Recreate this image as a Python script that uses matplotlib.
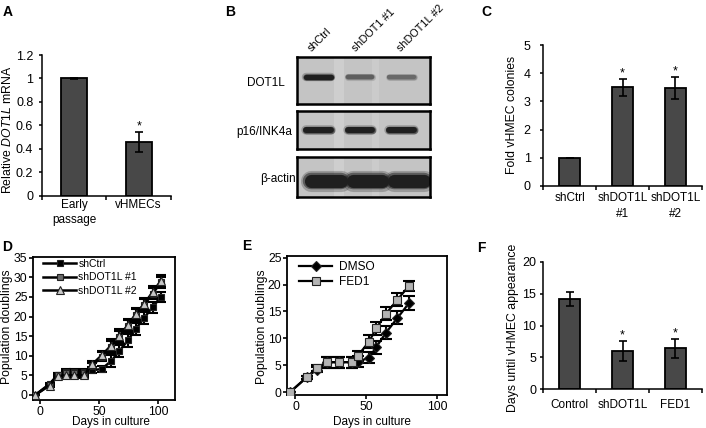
import numpy as np
import matplotlib.pyplot as plt

plt.rcParams['font.family'] = 'Liberation Sans'
plt.rcParams['mathtext.fontset'] = 'custom'
plt.rcParams['mathtext.it'] = 'Liberation Sans:italic'
plt.rcParams['mathtext.rm'] = 'Liberation Sans'
plt.rcParams['axes.linewidth'] = 1.1

# ---- data ----
# A: relative DOT1L mRNA
a_labels = ['Early\npassage', 'vHMECs']
a_values = [1.0, 0.46]
a_errors = [0.005, 0.085]

# B: western blot, relative band strength per lane
blot_lanes = ['shCtrl', 'shDOT1 #1', 'shDOT1L #2']
blot_rows = ['DOT1L', 'p16/INK4a', '\u03b2-actin']
blot_dot1l = [1.0, 0.62, 0.55]
blot_p16 = [1.0, 1.0, 1.0]
blot_actin = [1.0, 1.0, 1.0]

# C: fold vHMEC colonies
c_labels = ['shCtrl', 'shDOT1L\n#1', 'shDOT1L\n#2']
c_values = [1.0, 3.5, 3.47]
c_errors = [0.01, 0.31, 0.40]

# D: population doublings, shRNA
d_days = [-4, 8, 15, 22, 29, 37, 44, 52, 60, 67, 74, 81, 88, 95, 102]
d_shctrl = [0, 2.8, 5.2, 5.9, 5.9, 5.9, 6.3, 6.6, 8.6, 11.2, 13.9, 16.9, 19.7, 22.4, 25.0]
d_shctrl_err = [0, 0.3, 0.5, 0.6, 0.6, 0.6, 0.6, 0.8, 1.5, 1.6, 1.6, 1.5, 1.5, 1.4, 1.3]
d_sh1 = [0, 2.6, 5.0, 5.5, 5.5, 5.5, 7.4, 9.8, 12.3, 14.8, 17.5, 20.4, 23.0, 25.8, 28.7]
d_sh1_err = [0, 0.3, 0.5, 0.6, 0.6, 0.6, 0.8, 1.2, 1.5, 1.5, 1.5, 1.5, 1.4, 1.4, 1.5]
d_sh2 = [0, 2.4, 4.8, 5.0, 5.0, 5.0, 7.8, 10.1, 12.6, 15.1, 17.8, 20.7, 23.3, 26.2, 29.1]
d_sh2_err = [0, 0.3, 0.5, 0.6, 0.6, 0.6, 0.8, 1.2, 1.6, 1.6, 1.6, 1.6, 1.5, 1.5, 1.6]

# E: population doublings, drug
e_days = [-4, 8, 15, 22, 31, 40, 44, 52, 57, 64, 72, 80]
e_dmso = [0, 2.8, 4.2, 5.6, 5.6, 5.6, 5.7, 6.4, 8.4, 11.1, 13.8, 16.5]
e_dmso_err = [0, 0.3, 0.5, 1.0, 1.0, 1.0, 1.0, 1.0, 1.2, 1.2, 1.2, 1.3]
e_fed1 = [0, 2.8, 4.5, 5.6, 5.6, 5.6, 6.8, 9.4, 11.9, 14.6, 17.2, 19.7]
e_fed1_err = [0, 0.3, 0.5, 1.0, 1.0, 1.0, 0.9, 1.2, 1.2, 1.2, 1.2, 0.9]

# F: days until vHMEC appearance
f_labels = ['Control', 'shDOT1L', 'FED1']
f_values = [14.15, 5.95, 6.4]
f_errors = [1.15, 1.55, 1.43]

W, H = 706, 428
fig = plt.figure(figsize=(W / 100, H / 100), dpi=100)


def px_axes(l, t, r, b):
    return fig.add_axes([l / W, 1 - b / H, (r - l) / W, (b - t) / H])


def ftext(x, y, s, **kw):
    fig.text(x / W, 1 - y / H, s, **kw)


def bar_panel(ax, labels, values, errors, stars, ymax, yticks, yticklabels,
              ypad, xpad, lsp):
    x = np.arange(len(values))
    ax.bar(x, values, width=0.4, color='#484848', edgecolor='black',
           linewidth=1.3, zorder=2)
    ax.errorbar(x, values, yerr=errors, fmt='none', ecolor='black',
                elinewidth=1.2, capsize=3.2, capthick=1.2, zorder=3)
    for i in stars:
        ax.annotate('*', (x[i], values[i] + errors[i]), xytext=(0, 4),
                    textcoords='offset points', ha='center', va='center',
                    fontsize=9)
    ax.set_xlim(-0.5, len(values) - 0.5)
    ax.set_ylim(0, ymax)
    ax.set_yticks(yticks)
    ax.set_yticklabels(yticklabels)
    ax.set_xticks(np.arange(len(values) + 1) - 0.5)
    ax.set_xticklabels([])
    ax.set_xticks(x, minor=True)
    ax.set_xticklabels(labels, minor=True, fontsize=8.5, linespacing=lsp)
    ax.tick_params(axis='x', which='major', direction='out', length=3, width=1.1)
    ax.tick_params(axis='x', which='minor', length=0, pad=xpad)
    ax.tick_params(axis='y', direction='out', length=2.5, width=1.1,
                   pad=ypad, labelsize=9)
    for s in ['top', 'right']:
        ax.spines[s].set_visible(False)


# ---- A ----
axA = px_axes(41.7, 55, 171, 195.7)
bar_panel(axA, a_labels, a_values, a_errors, [1], 1.2,
          [0, 0.2, 0.4, 0.6, 0.8, 1.0, 1.2],
          ['0', '0.2', '0.4', '0.6', '0.8', '1', '1.2'], 3.5, 2.5, 1.3)
ftext(8, 130, r'Relative $\mathit{DOT1L}$ mRNA', rotation=90,
      ha='center', va='center', fontsize=8.8)

# ---- C ----
axC = px_axes(543.3, 45, 701.7, 186)
bar_panel(axC, c_labels, c_values, c_errors, [1, 2], 5,
          [0, 1, 2, 3, 4, 5], ['0', '1', '2', '3', '4', '5'], 6.5, 4, 1.45)
ftext(512, 115, 'Fold vHMEC colonies', rotation=90, ha='center',
      va='center', fontsize=8.8)

# ---- F ----
axF = px_axes(543.3, 261.7, 701.7, 389.3)
bar_panel(axF, f_labels, f_values, f_errors, [1, 2], 20,
          [0, 5, 10, 15, 20], ['0', '5', '10', '15', '20'], 2.7, 7, 1.2)
ftext(513, 328, 'Days until vHMEC appearance', rotation=90, ha='center',
      va='center', fontsize=8.8)

# ---- B (blot) ----
bg = np.array([0.77, 0.77, 0.77])
dark = np.array([0.12, 0.12, 0.12])
strip_boxes = [(57, 104), (111, 149), (157, 197)]
strip_data = [blot_dot1l, blot_p16, blot_actin]
band_y = [0.14, 0.0, -0.2]
band_half = [0.3, 0.3, 0.36]
band_lw = [3.8, 4.3, 9.5]
lane_shift = [0.0, 0.0, 0.18]
label_x = [266, 264, 278]
for k, (t, b) in enumerate(strip_boxes):
    ax = px_axes(297, t, 430, b)
    ax.set_facecolor(bg)
    ax.set_xlim(-0.52, 2.69)
    ax.set_ylim(-1, 1)
    ax.axvspan(0.38, 0.62, color='white', alpha=0.18, lw=0)
    ax.axvspan(1.3, 1.45, color='white', alpha=0.12, lw=0)
    for lane, strength in enumerate(strip_data[k]):
        c = bg + (dark - bg) * strength
        cx = lane + lane_shift[k]
        lw = band_lw[k] * (0.6 + 0.4 * strength)
        for scale, alpha in [(1.6, 0.25), (1.25, 0.5), (1.0, 1.0)]:
            ax.plot([cx - band_half[k], cx + band_half[k]],
                    [band_y[k], band_y[k]], color=c, lw=lw * scale,
                    alpha=alpha, solid_capstyle='round')
    ax.set_xticks([])
    ax.set_yticks([])
    for s in ax.spines.values():
        s.set_linewidth(1.8)
    ftext(label_x[k], (t + b) / 2 + 2, blot_rows[k], ha='center',
          va='center', fontsize=8.5)
for i, name in enumerate(blot_lanes):
    ftext(313 + 44.5 * i, 53, name, rotation=45, rotation_mode='anchor',
          ha='left', va='bottom', fontsize=7.8)

# ---- D ----
axD = px_axes(33, 257, 175, 400)
d_series = [(d_shctrl, d_shctrl_err, 's', 'black', 'shCtrl', 4.8),
            (d_sh1, d_sh1_err, 's', '#6a6a6a', 'shDOT1L #1', 4.8),
            (d_sh2, d_sh2_err, '^', '#c8c8c8', 'shDOT1L #2', 5.5)]
for vals, errs, mk, fc, lab, ms in d_series:
    axD.errorbar(d_days, vals, yerr=errs, fmt='none', ecolor='black',
                 elinewidth=1.5, capsize=3.5, capthick=1.5, zorder=2)
    axD.plot(d_days, vals, color='black', lw=1.8, marker=mk, ms=ms,
             mfc=fc, mec='#222222', mew=0.8, label=lab, zorder=3)
axD.set_xlim(-6, 114)
axD.set_ylim(-1.3, 35.2)
axD.set_xticks([0, 50, 100])
axD.set_yticks([0, 5, 10, 15, 20, 25, 30, 35])
for s in axD.spines.values():
    s.set_linewidth(1.3)
axD.tick_params(direction='out', length=3, width=1.2, pad=1, labelsize=8.8)
axD.legend(loc='upper left', bbox_to_anchor=(0.06, 1.0), frameon=False,
           fontsize=7.5, handlelength=3.2, handletextpad=0.2,
           labelspacing=0.35, borderaxespad=0, borderpad=0.15)
ftext(7, 327, 'Population doublings', rotation=90, ha='center',
      va='center', fontsize=8.8)
ftext(111, 422.5, 'Days in culture', ha='center', va='center', fontsize=8.5)

# ---- E ----
axE = px_axes(287, 256, 447, 395)
e_series = [(e_dmso, e_dmso_err, 'D', 'black', 'DMSO', 5),
            (e_fed1, e_fed1_err, 's', '#b4b4b4', 'FED1', 5.5)]
for vals, errs, mk, fc, lab, ms in e_series:
    axE.errorbar(e_days, vals, yerr=errs, fmt='none', ecolor='black',
                 elinewidth=1.5, capsize=4, capthick=1.5, zorder=2)
    axE.plot(e_days, vals, color='black', lw=1.6, marker=mk, ms=ms,
             mfc=fc, mec='#222222', mew=0.8, label=lab, zorder=3)
axE.set_xlim(-6, 107)
axE.set_ylim(-0.5, 25.3)
axE.set_xticks([0, 50, 100])
axE.set_yticks([0, 5, 10, 15, 20, 25])
for s in axE.spines.values():
    s.set_linewidth(1.3)
axE.tick_params(direction='out', length=3, width=1.2, pad=1, labelsize=8.8)
axE.legend(loc='upper left', bbox_to_anchor=(0.07, 0.97), frameon=False,
           fontsize=8.6, handlelength=2.7, handletextpad=0.6,
           labelspacing=0.25, borderaxespad=0, borderpad=0.1)
ftext(262, 327, 'Population doublings', rotation=90, ha='center',
      va='center', fontsize=8.8)
ftext(372, 422.5, 'Days in culture', ha='center', va='center', fontsize=8.5)

# ---- panel letters ----
for letter, (x, y) in zip('ABCDEF', [(7.5, 11.5), (230, 12), (486.5, 11.5),
                                     (7, 247), (247, 246.5), (481.5, 247.5)]):
    ftext(x, y, letter, ha='center', va='center', fontsize=10,
          fontweight='bold')

fig.savefig('out.png', dpi=100)
